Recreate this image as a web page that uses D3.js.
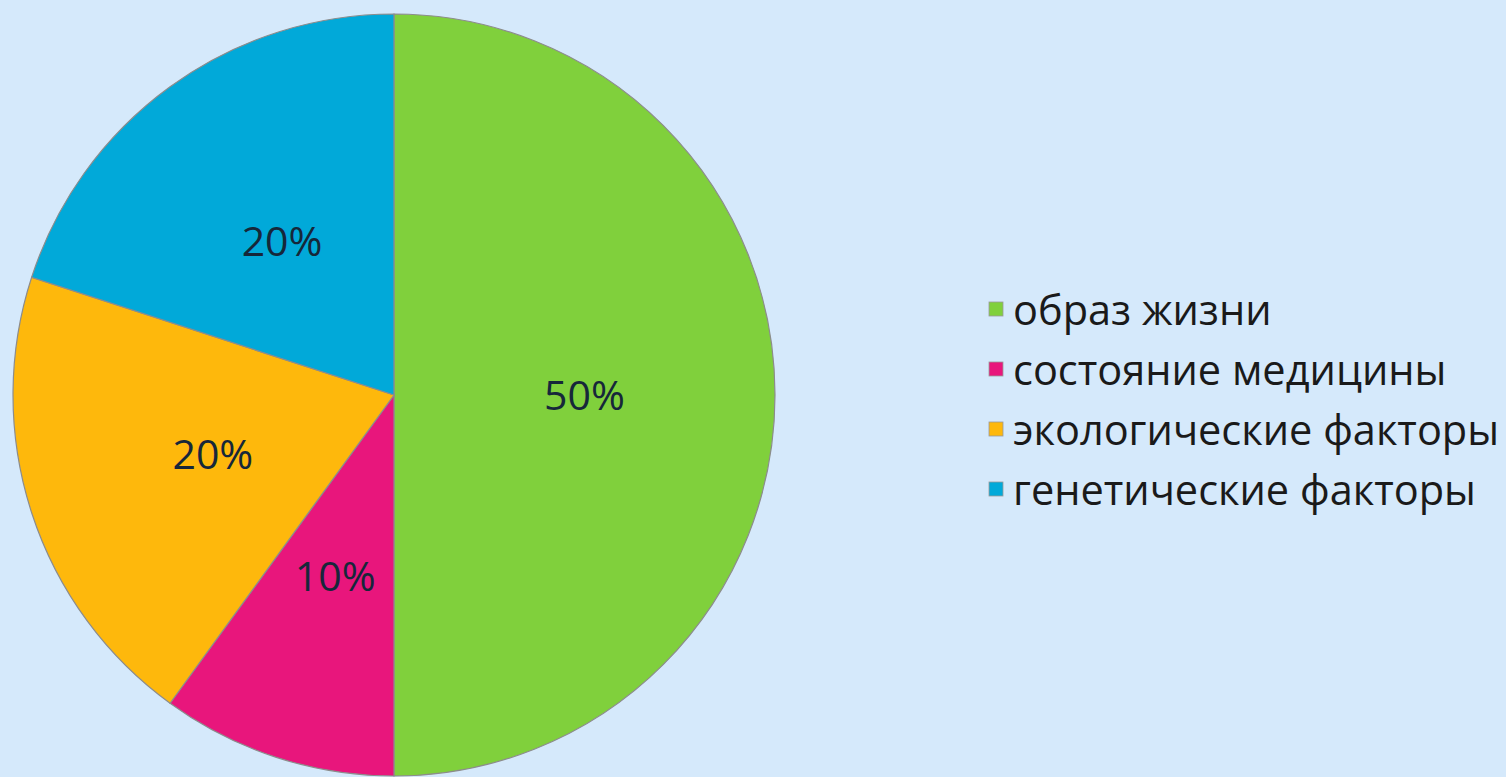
<!DOCTYPE html>
<html>
<head>
<meta charset="utf-8">
<script src="https://cdn.jsdelivr.net/npm/d3@7/dist/d3.min.js"></script>
<style>
  html, body { margin: 0; padding: 0; background: #d5e9fb; }
  svg { display: block; }
</style>
</head>
<body>
<div id="chart"></div>
<script>
const categories = ['образ жизни', 'состояние медицины', 'экологические факторы', 'генетические факторы'];
const values = [50, 10, 20, 20];
const valueLabels = ['50%', '10%', '20%', '20%'];
const colors = ['#80d03c', '#e8167c', '#feb80c', '#01a9d9'];

const width = 1506;
const height = 777;
const cx = 394;
const cy = 395;
const radius = 381;

const svg = d3.select('#chart').append('svg')
  .attr('width', width)
  .attr('height', height);

const color = d3.scaleOrdinal().domain(categories).range(colors);

const pie = d3.pie().sort(null).value(function(d) { return d.value; });
const data = categories.map(function(c, i) {
  return {name: c, value: values[i], label: valueLabels[i]};
});
const arcs = pie(data);

const arc = d3.arc().innerRadius(0).outerRadius(radius);
const labelArc = d3.arc().innerRadius(radius * 0.5).outerRadius(radius * 0.5);

const g = svg.append('g').attr('transform', 'translate(' + cx + ',' + cy + ')');

g.selectAll('path').data(arcs).enter().append('path')
  .attr('d', arc)
  .attr('fill', function(d) { return color(d.data.name); })
  .attr('stroke', '#8c8c8c')
  .attr('stroke-width', 1.2);

g.selectAll('text').data(arcs).enter().append('text')
  .attr('transform', function(d) {
    const c = labelArc.centroid(d);
    return 'translate(' + c[0] + ',' + (c[1] + 4) + ')';
  })
  .attr('text-anchor', 'middle')
  .attr('dominant-baseline', 'middle')
  .attr('font-family', 'Open Sans, sans-serif')
  .attr('font-size', 41)
  .attr('fill', '#16273a')
  .text(function(d) { return d.data.label; });

// legend
const legend = svg.append('g').attr('transform', 'translate(989,310)');
const rowH = 60;

legend.selectAll('rect').data(categories).enter().append('rect')
  .attr('x', 0)
  .attr('y', function(d, i) { return i * rowH - 8; })
  .attr('width', 14)
  .attr('height', 14)
  .attr('fill', function(d) { return color(d); })
  .attr('stroke', '#9a9a9a')
  .attr('stroke-width', 0.8);

legend.selectAll('text').data(categories).enter().append('text')
  .attr('x', 24)
  .attr('y', function(d, i) { return i * rowH + 15; })
  .attr('font-family', 'Open Sans, sans-serif')
  .attr('font-size', 41.5)
  .attr('fill', '#1a1a1a')
  .text(function(d) { return d; });
</script>
</body>
</html>
